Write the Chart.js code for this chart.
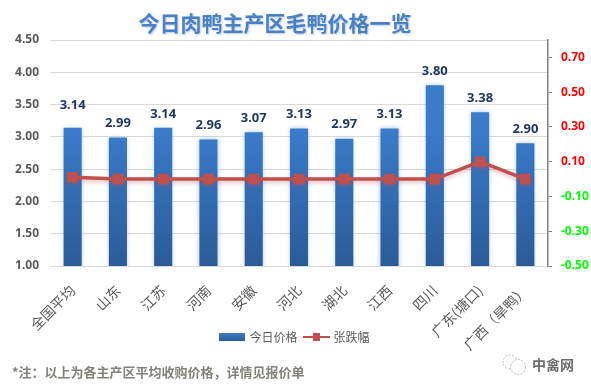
<!DOCTYPE html>
<html>
<head>
<meta charset="utf-8">
<title>今日肉鸭主产区毛鸭价格一览</title>
<script src="https://cdn.jsdelivr.net/npm/chart.js@4/dist/chart.umd.min.js"></script>
<style>
  html, body { margin: 0; padding: 0; background: #fff; }
  canvas { display: block; }
</style>
</head>
<body>
<canvas id="chart" width="591" height="391"></canvas>
<script>
const titleText = "今日肉鸭主产区毛鸭价格一览";
const noteText = "*注：以上为各主产区平均收购价格，详情见报价单";
const markText = "中禽网";
const categories = ["全国平均", "山东", "江苏", "河南", "安徽", "河北", "湖北", "江西", "四川", "广东(塘口)", "广西（旱鸭）"];
const prices = [3.14, 2.99, 3.14, 2.96, 3.07, 3.13, 2.97, 3.13, 3.80, 3.38, 2.90];
const changes = [0.01, 0, 0, 0, 0, 0, 0, 0, 0, 0.10, 0];
const changeTicks = [-0.5, -0.3, -0.1, 0.1, 0.3, 0.5, 0.7];

const cjk = '"Noto Sans CJK SC", "Noto Sans", sans-serif';
const num = '"Noto Sans", "Noto Sans CJK SC", sans-serif';
const barFallback = "#3a7bcb";
const lineColor = "#c0504d";

// Legend swatches: a plain bar and a line with its square marker
function barSwatch() {
  const c = document.createElement("canvas");
  c.width = 26; c.height = 8;
  const g = c.getContext("2d");
  const grad = g.createLinearGradient(0, 0, 0, 8);
  grad.addColorStop(0, "#3a7bcb");
  grad.addColorStop(1, "#2b5b97");
  g.fillStyle = grad;
  g.fillRect(0, 0, 26, 8);
  return c;
}

function lineSwatch() {
  const c = document.createElement("canvas");
  c.width = 27; c.height = 8;
  const g = c.getContext("2d");
  g.fillStyle = lineColor;
  g.fillRect(0, 3, 27, 2);
  g.fillRect(10, 0, 7, 8);
  return c;
}

// Long category labels run past the axis box, so let them draw down to the canvas edge
const longLabels = {
  id: "longLabels",
  afterLayout(chart) {
    chart.scales.x.bottom = chart.height;
  }
};

// Soft glow under bars and line
const glow = {
  id: "glow",
  beforeDatasetDraw(chart, args) {
    const ctx = chart.ctx;
    ctx.save();
    if (args.index === 0) {
      ctx.shadowColor = "rgba(58,123,203,0.4)";
      ctx.shadowBlur = 5;
    } else {
      ctx.shadowColor = "rgba(192,80,77,0.4)";
      ctx.shadowBlur = 4;
      ctx.shadowOffsetY = 2;
    }
  },
  afterDatasetDraw(chart) {
    chart.ctx.restore();
  }
};

// Price labels above the bars, the first one sits higher in the original
const barLabels = {
  id: "barLabels",
  afterDatasetsDraw(chart) {
    const ctx = chart.ctx;
    const bars = chart.getDatasetMeta(0).data;
    ctx.save();
    ctx.font = "bold 13px " + num;
    ctx.fillStyle = "#1f3864";
    ctx.textAlign = "center";
    ctx.textBaseline = "middle";
    bars.forEach((bar, i) => {
      ctx.fillText(prices[i].toFixed(2), bar.x, bar.y - (i === 0 ? 23 : 14));
    });
    ctx.restore();
  }
};

// Title, footnote and watermark, placed off-centre like the original
const extras = {
  id: "extras",
  afterDraw(chart) {
    const ctx = chart.ctx;
    ctx.save();
    ctx.textBaseline = "middle";

    ctx.save();
    ctx.font = "bold 21px " + cjk;
    ctx.textAlign = "center";
    ctx.fillStyle = "#4a80c4";
    ctx.shadowColor = "rgba(120,150,200,0.5)";
    ctx.shadowBlur = 2;
    ctx.shadowOffsetX = 1;
    ctx.shadowOffsetY = 1;
    ctx.fillText(titleText, 275, 23);
    ctx.restore();

    ctx.font = "bold 13px " + cjk;
    ctx.textAlign = "left";
    ctx.fillStyle = "#85807a";
    ctx.fillText(noteText, 12, 372);

    ctx.font = "bold 14px " + cjk;
    ctx.fillStyle = "#6e6e6e";
    ctx.fillText(markText, 532, 365);

    // little chat bubbles next to the watermark
    ctx.strokeStyle = "#b5b5b5";
    ctx.fillStyle = "#fff";
    ctx.lineWidth = 1;
    ctx.setLineDash([2, 1.5]);
    ctx.beginPath();
    ctx.arc(510, 362, 7, 0, Math.PI * 2);
    ctx.fill();
    ctx.stroke();
    ctx.beginPath();
    ctx.arc(518, 367, 7.5, 0, Math.PI * 2);
    ctx.fill();
    ctx.stroke();
    ctx.restore();
  }
};

new Chart(document.getElementById("chart"), {
  type: "bar",
  data: {
    labels: categories,
    datasets: [
      {
        label: "今日价格",
        data: prices,
        yAxisID: "y",
        order: 2,
        barPercentage: 0.4,
        categoryPercentage: 1,
        backgroundColor(ctx) {
          const area = ctx.chart.chartArea;
          if (!area) return barFallback;
          const grad = ctx.chart.ctx.createLinearGradient(0, area.top, 0, area.bottom);
          grad.addColorStop(0.4, "#3a7bcb");
          grad.addColorStop(1, "#2b5b97");
          return grad;
        }
      },
      {
        type: "line",
        label: "张跌幅",
        data: changes,
        yAxisID: "y2",
        order: 1,
        borderColor: lineColor,
        backgroundColor: lineColor,
        borderWidth: 3.5,
        tension: 0,
        pointStyle: "rect",
        pointRadius: 7.4,
        pointHoverRadius: 7.4,
        pointBorderWidth: 0
      }
    ]
  },
  options: {
    responsive: false,
    animation: false,
    layout: { padding: { top: 40, right: 0, left: 0, bottom: 38 } },
    plugins: {
      title: { display: false },
      tooltip: { enabled: false },
      legend: {
        position: "bottom",
        labels: {
          usePointStyle: true,
          pointStyleWidth: 22,
          padding: 8,
          color: "#595959",
          font: { family: cjk, size: 12 },
          generateLabels() {
            return [
              { text: "今日价格", pointStyle: barSwatch(), fontColor: "#595959", lineWidth: 0, strokeStyle: "transparent" },
              { text: "张跌幅", pointStyle: lineSwatch(), fontColor: "#595959", lineWidth: 0, strokeStyle: "transparent" }
            ];
          }
        }
      }
    },
    scales: {
      x: {
        afterFit(s) { s.height = 57; },
        grid: { display: false },
        border: { display: false },
        ticks: {
          minRotation: 45,
          maxRotation: 45,
          autoSkip: false,
          padding: 8,
          color: "#595959",
          font: { family: cjk, size: 14 }
        }
      },
      y: {
        position: "left",
        min: 1,
        max: 4.5,
        afterFit(s) { s.width = 50; },
        grid: { color: "#d9d9d9", lineWidth: 1, drawTicks: false },
        border: { display: false },
        ticks: {
          stepSize: 0.5,
          padding: 11,
          color: "#595959",
          font: { family: num, size: 12, weight: "bold" },
          callback: v => v.toFixed(2)
        }
      },
      y2: {
        position: "right",
        min: -0.5,
        max: 0.8,
        afterFit(s) { s.width = 43; },
        afterBuildTicks(s) { s.ticks = changeTicks.map(value => ({ value })); },
        grid: { drawOnChartArea: false, color: "#808080", tickLength: 4 },
        border: { display: true, color: "#808080", width: 1.5 },
        ticks: {
          padding: 9,
          color: ctx => (ctx.tick.value < 0 ? "#00ff00" : "#ff0000"),
          font: { family: num, size: 12, weight: "bold" },
          callback: v => v.toFixed(2)
        }
      }
    }
  },
  plugins: [longLabels, glow, barLabels, extras]
});
</script>
</body>
</html>
